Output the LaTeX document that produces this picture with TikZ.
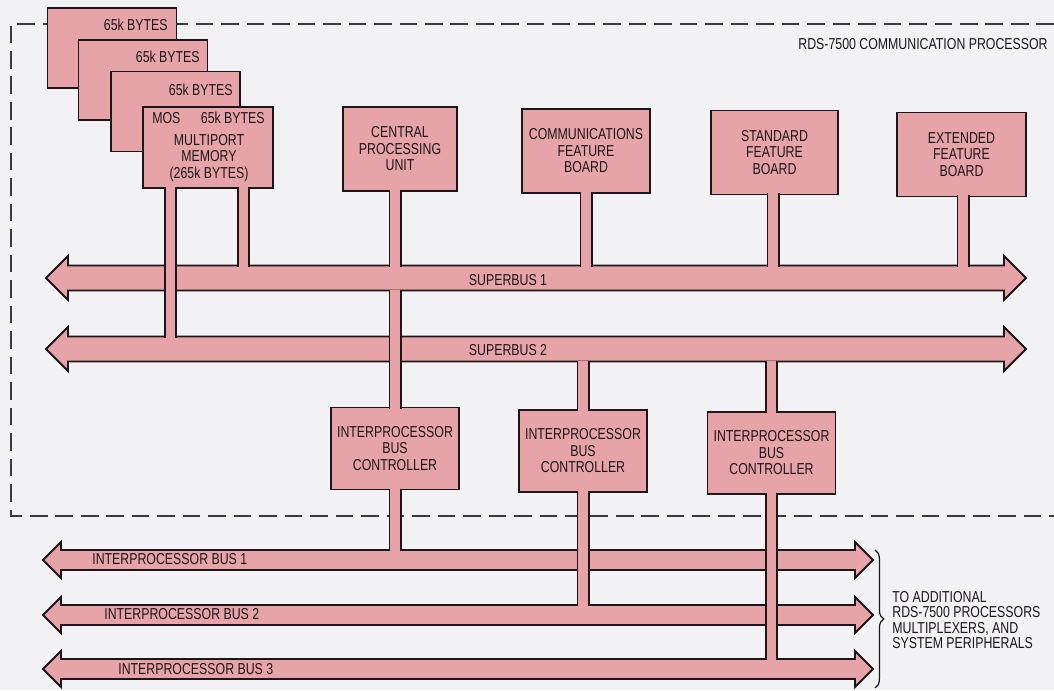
\documentclass[tikz,border=0pt]{standalone}
\usepackage{fontspec}
\setmainfont{Liberation Sans}[FakeStretch=0.78]
\usetikzlibrary{calc,decorations.pathreplacing}

\definecolor{paper}{RGB}{242,242,244}
\definecolor{busfill}{RGB}{231,164,168}
\definecolor{inkline}{RGB}{28,22,26}

\tikzset{
  unit/.style={rectangle, draw=inkline, fill=busfill, line width=1.1pt, outer sep=0pt, inner sep=0pt,
    minimum width=2.56cm, minimum height=1.66cm, align=center, text=inkline,
    font=\fontsize{9}{9.4}\selectfont},
  txt/.style={inner sep=0pt, text=inkline, font=\fontsize{9}{9.4}\selectfont},
  busline/.style={draw=inkline, fill=busfill, line width=1.1pt, line join=miter},
  stem/.style={draw=inkline, line width=1.1pt, double=busfill, double distance=5.2pt},
  frame/.style={draw=inkline!85, line width=0.8pt, dash pattern=on 10pt off 4.5pt},
}

% bus arrow: #1 name, #2 left tip x, #3 right tip x, #4 centre y, #5 half shaft, #6 half head
\newcommand{\busarrow}[6]{%
  \draw[busline] (#2,#4) -- ++(#6,-#6) -- ++(0,#6-#5) -- (#3-#6,#4-#5) -- ++(0,#5-#6) -- (#3,#4)
    -- ++(-#6,#6) -- ++(0,#5-#6) -- (#2+#6,#4+#5) -- ++(0,#6-#5) -- cycle;
  \coordinate (#1t) at (0,#4-#5);
  \coordinate (#1b) at (0,#4+#5);}

\begin{document}
\begin{tikzpicture}[x=0.02cm, y=-0.02cm]
\fill[paper] (0,0) rectangle (1054,690);
\useasboundingbox (0,0) rectangle (1054,690);

%---------- marco del procesador ----------
\draw[frame] (1054,24) -- (11,24) -- (11,516) -- (1054,516);
\node[txt, anchor=east] (title) at (1048,44) {RDS-7500 COMMUNICATION PROCESSOR};

%---------- buses ----------
\busarrow{sb1}{46}{1026}{278}{12.5}{22}
\busarrow{sb2}{46}{1026}{349}{12.5}{22}
\busarrow{ipb1}{43}{873}{560}{10}{18}
\busarrow{ipb2}{43}{873}{615}{10}{18}
\busarrow{ipb3}{43}{873}{669}{10}{18}

\node[txt] (sb1lbl) at (508,280) {SUPERBUS 1};
\node[txt] (sb2lbl) at (508,350) {SUPERBUS 2};
\node[txt, anchor=west] (ipb1lbl) at (92,559) {INTERPROCESSOR BUS 1};
\node[txt, anchor=west] (ipb2lbl) at (104,614) {INTERPROCESSOR BUS 2};
\node[txt, anchor=west] (ipb3lbl) at (118,669) {INTERPROCESSOR BUS 3};

%---------- memoria ----------
\node[unit, minimum width=2.58cm, minimum height=1.6cm] (mem1) at (112,48) {};
\node[unit, minimum width=2.58cm, minimum height=1.6cm] (mem2) at (143,80) {};
\node[unit, minimum width=2.58cm, minimum height=1.6cm] (mem3) at (175.5,111.5) {};
\node[unit, minimum width=2.6cm, minimum height=1.62cm] (mem4) at (208,147.5) {};
\node[txt, anchor=east] (mem1lbl) at (168,25) {65k BYTES};
\node[txt, anchor=east] (mem2lbl) at (200,57) {65k BYTES};
\node[txt, anchor=east] (mem3lbl) at (233,90) {65k BYTES};
\node[txt, anchor=east] (mem4lbl) at (265,118) {65k BYTES};
\node[txt, anchor=west] (moslbl) at (152,118) {MOS};
\node[txt, align=center] (memlbl) at (209,158) {MULTIPORT\\MEMORY\\(265k BYTES)};

%---------- tarjetas ----------
\node[unit, minimum width=2.28cm, minimum height=1.68cm] (cpu) at (400,149) {CENTRAL\\PROCESSING\\UNIT};
\node[unit, minimum height=1.68cm] (cfb) at (586,151) {COMMUNICATIONS\\FEATURE\\BOARD};
\node[unit, minimum width=2.54cm, minimum height=1.68cm] (sfb) at (774.5,152.5) {STANDARD\\FEATURE\\BOARD};
\node[unit, minimum width=2.58cm, minimum height=1.68cm] (efb) at (961.5,154.5) {EXTENDED\\FEATURE\\BOARD};

\node[unit, minimum height=1.64cm] (ibc1) at (395,448.5) {INTERPROCESSOR\\BUS\\CONTROLLER};
\node[unit, minimum height=1.64cm] (ibc2) at (583,451) {INTERPROCESSOR\\BUS\\CONTROLLER};
\node[unit, minimum height=1.64cm] (ibc3) at (771.5,453) {INTERPROCESSOR\\BUS\\CONTROLLER};

%---------- conexiones ----------
\draw[stem] ($(mem4.south)+(-37.5,-1)$) -- ($(mem4.south |- sb2t)+(-37.5,1)$);
\draw[stem] ($(mem4.south)+(35.5,-1)$) -- ($(mem4.south |- sb1t)+(35.5,1)$);
\draw[stem] ($(cpu.south)+(-5,-1)$) -- ($(cpu.south |- sb1t)+(-5,1)$);
\draw[stem] ($(cfb.south)+(0,-1)$) -- ($(cfb.south |- sb1t)+(0,1)$);
\draw[stem] ($(sfb.south)+(-1.5,-1)$) -- ($(sfb.south |- sb1t)+(-1.5,1)$);
\draw[stem] ($(efb.south)+(1.5,-1)$) -- ($(efb.south |- sb1t)+(1.5,1)$);

\draw[stem] ($(ibc1.north)+(0,1)$) -- ($(ibc1.north |- sb1b)+(0,-1)$);
\draw[stem] ($(ibc2.north)+(0,1)$) -- ($(ibc2.north |- sb2b)+(0,-1)$);
\draw[stem] ($(ibc3.north)+(0,1)$) -- ($(ibc3.north |- sb2b)+(0,-1)$);

\draw[stem] ($(ibc1.south)+(0,-1)$) -- ($(ibc1.south |- ipb1t)+(0,1)$);
\draw[stem] ($(ibc2.south)+(0,-1)$) -- ($(ibc2.south |- ipb2t)+(0,1)$);
\draw[stem] ($(ibc3.south)+(0,-1)$) -- ($(ibc3.south |- ipb3t)+(0,1)$);

%---------- destino ----------
\draw[inkline, line width=0.7pt, decorate, decoration={brace, amplitude=5pt}] (875,550) -- (875,688);
\node[txt, anchor=west, align=left, font=\fontsize{9}{8.7}\selectfont] (dest) at (892,620)
  {TO ADDITIONAL\\RDS-7500 PROCESSORS\\MULTIPLEXERS, AND\\SYSTEM PERIPHERALS};
\end{tikzpicture}
\end{document}
